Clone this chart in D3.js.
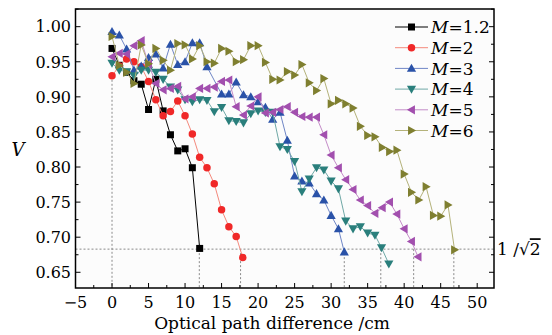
<!DOCTYPE html>
<html><head><meta charset="utf-8">
<script src="https://cdn.jsdelivr.net/npm/d3@7"></script>
<style>body{margin:0;background:#fff}svg{display:block}</style>
</head><body>
<svg id="c" width="552" height="335"></svg>
<script>
// ---- data ----
const seriesNames = ["1.2", "2", "3", "4", "5", "6"];
const xM12 = [0,1,2,3,4,5,6,7,8,9,10,11,12];
const vM12 = [0.969,0.945,0.935,0.923,0.918,0.882,0.925,0.880,0.846,0.823,0.826,0.799,0.684];
const xM2 = [0,1,2,3,4,5,6,7,8,9,10,11,12,13,14,15,16,17,17.9];
const vM2 = [0.930,0.944,0.954,0.950,0.943,0.922,0.896,0.873,0.879,0.894,0.873,0.847,0.814,0.799,0.776,0.739,0.715,0.701,0.671];
const xM3 = [0,1,2,3,4,5,6,7,8,9,10,11,12,13,15,16,17,18,19,20,21,22,23,24,25,26,27,28,29,30,31,31.8];
const vM3 = [0.993,0.988,0.968,0.938,0.944,0.956,0.961,0.941,0.975,0.946,0.950,0.977,0.977,0.943,0.904,0.904,0.921,0.903,0.900,0.893,0.885,0.868,0.878,0.838,0.787,0.780,0.777,0.762,0.753,0.731,0.712,0.679];
const xM4 = [0,1,2,3,4,5,6,7,8,9,10,11,12,13,14,15,16,17,18,19,20,21,22,23,24,25,26,27,28,29,30,31,32,33,34,35,36,36.9,37.9];
const vM4 = [0.948,0.938,0.936,0.930,0.938,0.938,0.935,0.925,0.914,0.910,0.896,0.893,0.896,0.895,0.879,0.885,0.866,0.865,0.863,0.876,0.880,0.878,0.878,0.829,0.825,0.808,0.765,0.783,0.799,0.796,0.780,0.769,0.723,0.712,0.715,0.706,0.703,0.685,0.662];
const xM5 = [0,1,2,3,4,5,6,7,8,9,10,11,12,13,14,15,16,17,18,19,20,21,22,23,24,25,26,27,28,29,30,31,32,33,34,35,36,37,38,39,40,41,41.9];
const vM5 = [0.957,0.962,0.961,0.973,0.980,0.947,0.919,0.910,0.912,0.915,0.897,0.900,0.912,0.912,0.914,0.922,0.924,0.886,0.874,0.887,0.900,0.877,0.878,0.882,0.886,0.878,0.872,0.871,0.871,0.846,0.817,0.799,0.782,0.768,0.753,0.745,0.734,0.742,0.750,0.733,0.712,0.694,0.672];
const xM6 = [0,1,2,3,4,5,6,7,8,9,10,11,12,13,14,15,16,17,18,19,20,21,22,23,24,25,26,27,28,29,30,31,32,33,34,35,36,37,38,39,40,41,42,43,44,45,46,46.9];
const vM6 = [0.986,0.945,0.935,0.919,0.974,0.947,0.969,0.952,0.938,0.976,0.974,0.954,0.973,0.950,0.948,0.969,0.965,0.950,0.953,0.973,0.973,0.949,0.925,0.924,0.936,0.931,0.946,0.920,0.909,0.926,0.890,0.895,0.890,0.884,0.858,0.845,0.843,0.828,0.822,0.824,0.790,0.764,0.753,0.772,0.731,0.730,0.746,0.682];
const threshold = 0.683;
const cutoffX = [11.95, 17.6, 31.8, 36.8, 41.3, 46.8];
const xTicks = [-5,0,5,10,15,20,25,30,35,40,45,50];
const yTicks = [0.65,0.70,0.75,0.80,0.85,0.90,0.95,1.00];

// ---- layout ----
const svg = d3.select("#c");
const L = 75.5, R = 494, T = 9, B = 288;
const x = d3.scaleLinear().domain([-5, 52.3]).range([L, R]);
const y = d3.scaleLinear().domain([0.6276, 1.0252]).range([B, T]);
const FONT = "DejaVu Serif, serif";

const colors = ["#000000", "#f02828", "#2a52a8", "#2a7f7c", "#a24fae", "#7f7f30"];
const lineColors = ["#000000", "#f4897c", "#6f86c6", "#6fa8a6", "#c48cc8", "#b4b27a"];
const shapes = ["square", "circle", "up", "down", "left", "right"];
const xs = [xM12, xM2, xM3, xM4, xM5, xM6];
const vs = [vM12, vM2, vM3, vM4, vM5, vM6];

svg.append("rect").attr("x", L).attr("y", T).attr("width", R - L).attr("height", B - T).attr("fill", "#fcfcfc");

// dashed guides
const guide = svg.append("g").attr("stroke", "#8a8a8a").attr("stroke-width", 1).attr("stroke-dasharray", "2,2").attr("fill", "none");
guide.append("line").attr("x1", L).attr("x2", R).attr("y1", y(threshold)).attr("y2", y(threshold));
guide.append("line").attr("x1", x(0)).attr("x2", x(0)).attr("y1", y(vM2[0])).attr("y2", B);
guide.selectAll("line.v").data(cutoffX).enter().append("line").attr("class", "v")
  .attr("x1", d => x(d)).attr("x2", d => x(d)).attr("y1", y(threshold)).attr("y2", B);

function markerPath(shape) {
  const r = 4.6;
  switch (shape) {
    case "square": return "M-3.5,-3.5H3.5V3.5H-3.5Z";
    case "circle": return d3.symbol(d3.symbolCircle, 44)();
    case "up": return `M0,${-r}L${r},${r*0.75}L${-r},${r*0.75}Z`;
    case "down": return `M0,${r}L${r},${-r*0.75}L${-r},${-r*0.75}Z`;
    case "left": return `M${-r},0L${r*0.75},${-r}L${r*0.75},${r}Z`;
    case "right": return `M${r},0L${-r*0.75},${-r}L${-r*0.75},${r}Z`;
  }
}

const line = d3.line().x(d => x(d[0])).y(d => y(d[1]));
// draw series
xs.forEach((xa, i) => {
  const pts = xa.map((xv, j) => [xv, vs[i][j]]);
  const g = svg.append("g");
  g.append("path").attr("d", line(pts)).attr("fill", "none").attr("stroke", lineColors[i]).attr("stroke-width", 1);
  g.selectAll("path.m").data(pts).enter().append("path").attr("class", "m")
    .attr("d", markerPath(shapes[i])).attr("fill", colors[i])
    .attr("transform", d => `translate(${x(d[0])},${y(d[1])})`);
});

// axes with inward ticks
const xMinor = d3.range(-5, 52.3, 2.5);
const yMinor = d3.range(0.65, 1.026, 0.025);
const axes = svg.append("g").attr("stroke", "#000").attr("stroke-width", 1);
xMinor.forEach(v => {
  const major = Math.abs(v / 5 - Math.round(v / 5)) < 1e-6;
  axes.append("line").attr("x1", x(v)).attr("x2", x(v)).attr("y1", B).attr("y2", B - (major ? 5 : 3));
});
yMinor.forEach(v => {
  const major = Math.abs(v / 0.05 - Math.round(v / 0.05)) < 1e-6;
  axes.append("line").attr("x1", L).attr("x2", L + (major ? 5 : 3)).attr("y1", y(v)).attr("y2", y(v));
  axes.append("line").attr("x1", R).attr("x2", R - (major ? 5 : 3)).attr("y1", y(v)).attr("y2", y(v));
});
svg.append("rect").attr("x", L).attr("y", T).attr("width", R - L).attr("height", B - T)
  .attr("fill", "none").attr("stroke", "#000").attr("stroke-width", 1.5);

// tick labels
svg.append("g").selectAll("text").data(xTicks).enter().append("text")
  .attr("x", d => x(d)).attr("y", 308).attr("text-anchor", "middle")
  .attr("font-family", FONT).attr("font-size", 16).attr("fill", "#000")
  .text(d => d < 0 ? "\u2212" + Math.abs(d) : d);
svg.append("g").selectAll("text").data(yTicks).enter().append("text")
  .attr("x", 71).attr("y", d => y(d)).attr("dy", "0.36em").attr("text-anchor", "end")
  .attr("font-family", FONT).attr("font-size", 16).attr("fill", "#000")
  .text(d => d3.format(".2f")(d));

// axis titles
svg.append("text").attr("x", 272).attr("y", 329).attr("text-anchor", "middle")
  .attr("font-family", FONT).attr("font-size", 17).text("Optical path difference /cm");
svg.append("text").attr("x", 18).attr("y", 150).attr("dy", "0.36em").attr("text-anchor", "middle")
  .attr("font-family", FONT).attr("font-size", 18).attr("font-style", "italic").text("V");

// 1/sqrt2 label
const lab = svg.append("text").attr("x", 497).attr("y", y(threshold)).attr("dy", "0.36em")
  .attr("font-family", FONT).attr("font-size", 17);
lab.append("tspan").text("1 /\u221A");
lab.append("tspan").attr("text-decoration", "overline").text("2");

// legend
const leg = svg.append("g");
seriesNames.forEach((n, i) => {
  const ly = 27 + i * 20.7;
  leg.append("line").attr("x1", 395).attr("x2", 428).attr("y1", ly).attr("y2", ly).attr("stroke", lineColors[i]).attr("stroke-width", 1);
  leg.append("path").attr("d", markerPath(shapes[i])).attr("fill", colors[i]).attr("transform", `translate(411.5,${ly})`);
  const t = leg.append("text").attr("x", 431).attr("y", ly).attr("dy", "0.36em")
    .attr("font-family", FONT).attr("font-size", 17);
  t.append("tspan").attr("font-style", "italic").text("M");
  t.append("tspan").text("=" + n);
});
</script>
</body></html>
